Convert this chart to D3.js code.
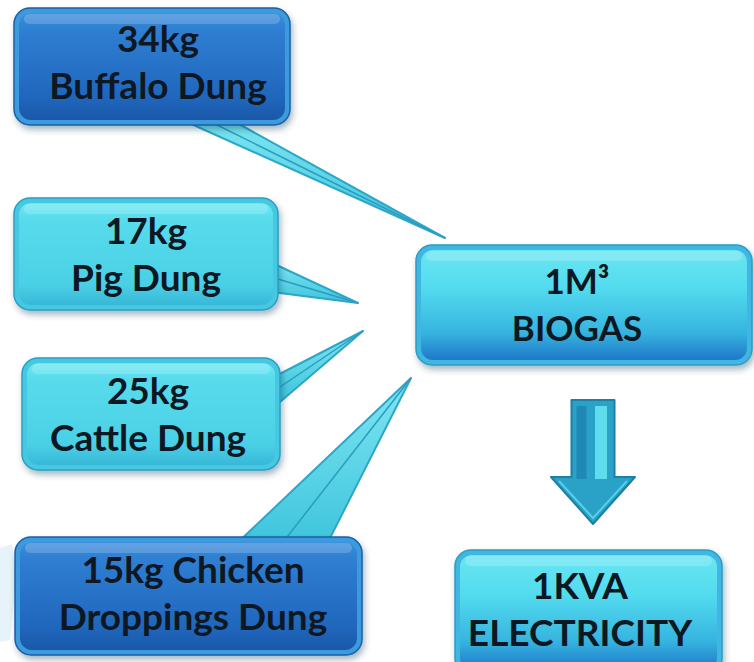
<!DOCTYPE html>
<html>
<head>
<meta charset="utf-8">
<script src="https://cdn.jsdelivr.net/npm/d3@7"></script>
<style>
  body { margin: 0; background: #fff; }
  svg { display: block; }
</style>
</head>
<body>
<div id="chart"></div>
<script>
// feedstock needed for 1 m3 of biogas
var sources = ["Buffalo Dung", "Pig Dung", "Cattle Dung", "Chicken Droppings Dung"];
var kgValues = [34, 17, 25, 15];
var gasLabel = ["1M\u00b3", "BIOGAS"];
var powerLabel = ["1KVA", "ELECTRICITY"];

var width = 754, height = 662;

// layout of the boxes (x, y, w, h), text anchor (tx, ty = first baseline) and callout tails
var srcBoxes = [
  {x: 14, y: 8, w: 276, h: 117, tx: 158, ty: 52, style: "blue", tail: [[178, 118], [228, 118], [445, 238]]},
  {x: 14, y: 198, w: 264, h: 112, tx: 146, ty: 244, style: "cyan", tail: [[270, 262], [272, 292], [358, 303]]},
  {x: 22, y: 358, w: 258, h: 112, tx: 148, ty: 404, style: "cyan", tail: [[268, 380], [280, 402], [363, 331]]},
  {x: 15, y: 537, w: 347, h: 118, tx: 193, ty: 583, style: "blue", tail: [[232, 548], [325, 548], [411, 378]]}
];
var gasBox = {x: 416, y: 245, w: 336, h: 120, tx: 577, ty: 294};
var powerBox = {x: 455, y: 550, w: 267, h: 125, tx: 580, ty: 599};

var svg = d3.select("#chart").append("svg")
    .attr("width", width)
    .attr("height", height);

var defs = svg.append("defs");

function grad(id, stops) {
  var g = defs.append("linearGradient").attr("id", id)
      .attr("x1", 0).attr("y1", 0).attr("x2", 0).attr("y2", 1);
  stops.forEach(function(s) {
    g.append("stop").attr("offset", s[0]).attr("stop-color", s[1]);
  });
}
grad("g-blue", [[0, "#3f8fdc"], [0.15, "#2f7fd2"], [0.8, "#1f66bc"], [1, "#1a58a8"]]);
grad("g-cyan", [[0, "#6ee8f2"], [0.15, "#58dcec"], [0.8, "#4ad0e6"], [1, "#38b8d8"]]);
grad("g-mix", [[0, "#6ae6f2"], [0.35, "#52dbee"], [0.75, "#36b4e0"], [1, "#1f78c8"]]);
grad("g-tail", [[0, "#7fe6f2"], [1, "#3cc4dc"]]);

var shadow = defs.append("filter").attr("id", "shadow")
    .attr("x", "-10%").attr("y", "-10%").attr("width", "130%").attr("height", "140%");
shadow.append("feDropShadow")
    .attr("dx", 2).attr("dy", 4).attr("stdDeviation", 3)
    .attr("flood-color", "#0a3050").attr("flood-opacity", 0.35);

// faint watermark on the left edge
svg.append("path")
    .attr("d", "M0,548 L12,544 L16,580 L10,640 L0,642 Z")
    .attr("fill", "#e6f3f8");

var line = d3.line();

// tails first so the boxes sit over their bases
svg.selectAll("path.tail").data(srcBoxes)
  .enter().append("path")
    .attr("class", "tail")
    .attr("d", function(d) { return line(d.tail) + "Z"; })
    .attr("fill", "url(#g-tail)")
    .attr("stroke", "#2ea6c8")
    .attr("stroke-width", 2)
    .attr("stroke-linejoin", "round");

// thin inner line on each tail
svg.selectAll("path.tail-in").data(srcBoxes)
  .enter().append("path")
    .attr("class", "tail-in")
    .attr("d", function(d) {
      var a = d.tail[0], b = d.tail[1], t = d.tail[2];
      var m = [(a[0] + b[0]) / 2, (a[1] + b[1]) / 2];
      return line([m, t]);
    })
    .attr("stroke", "#2b9cc0")
    .attr("stroke-width", 1.5)
    .attr("fill", "none");

function drawBox(g, b, style) {
  var edge = style === "blue" ? "#3b9bdc" : (style === "cyan" ? "#44c8e0" : "#3fb6e2");
  var fill = style === "blue" ? "url(#g-blue)" : (style === "cyan" ? "url(#g-cyan)" : "url(#g-mix)");
  var outline = style === "blue" ? "#1a5ea8" : "#2a9ec4";
  g.append("rect")
      .attr("x", b.x).attr("y", b.y).attr("width", b.w).attr("height", b.h)
      .attr("rx", 16)
      .attr("fill", edge)
      .attr("stroke", outline).attr("stroke-width", 1.5)
      .attr("filter", "url(#shadow)");
  g.append("rect")
      .attr("x", b.x + 5).attr("y", b.y + 5).attr("width", b.w - 10).attr("height", b.h - 10)
      .attr("rx", 12)
      .attr("fill", fill);
  // top highlight
  g.append("rect")
      .attr("x", b.x + 10).attr("y", b.y + 6).attr("width", b.w - 20).attr("height", 10)
      .attr("rx", 5)
      .attr("fill", "#fff").attr("opacity", 0.18);
}

function drawText(g, b, lines, size) {
  var gap = 47;
  g.selectAll("text").data(lines)
    .enter().append("text")
      .attr("x", b.tx)
      .attr("y", function(d, i) { return b.ty + i * gap; })
      .attr("text-anchor", "middle")
      .attr("font-family", "Lato, 'Open Sans', sans-serif")
      .attr("font-weight", "bold")
      .attr("font-size", size)
      .attr("fill", "#0e1822")
      .text(function(d) { return d; });
}

srcBoxes.forEach(function(b, i) {
  var g = svg.append("g");
  drawBox(g, b, b.style);
  var lines = i === 3
    ? [kgValues[i] + "kg Chicken", "Droppings Dung"]
    : [kgValues[i] + "kg", sources[i]];
  drawText(g, b, lines, 37);
});

var gg = svg.append("g");
drawBox(gg, gasBox, "mix");
drawText(gg, gasBox, gasLabel, 35);

// down arrow from biogas to electricity
var arrow = svg.append("g");
var ax = 593, arrTop = 400, shaftW = 43, headW = 84, headY = 477, tipY = 524;
arrow.append("path")
    .attr("d", line([
      [ax - shaftW / 2, arrTop], [ax + shaftW / 2, arrTop], [ax + shaftW / 2, headY],
      [ax + headW / 2, headY], [ax, tipY], [ax - headW / 2, headY], [ax - shaftW / 2, headY]
    ]) + "Z")
    .attr("fill", "#2aa2c8")
    .attr("stroke", "#1b7fa6").attr("stroke-width", 2)
    .attr("stroke-linejoin", "round");
arrow.append("rect")
    .attr("x", ax + 2).attr("y", arrTop + 6).attr("width", 12).attr("height", headY - arrTop - 4)
    .attr("fill", "#5fdcee");
arrow.append("rect")
    .attr("x", ax - shaftW / 2 + 5).attr("y", arrTop + 6).attr("width", 10).attr("height", headY - arrTop - 4)
    .attr("fill", "#1f88b4");
arrow.append("path")
    .attr("d", line([[ax - headW / 2 + 8, headY + 4], [ax, tipY - 6], [ax + headW / 2 - 8, headY + 4]]))
    .attr("fill", "none")
    .attr("stroke", "#56d0e6").attr("stroke-width", 2);

var pg = svg.append("g");
drawBox(pg, powerBox, "mix");
drawText(pg, powerBox, powerLabel, 37);
</script>
</body>
</html>
